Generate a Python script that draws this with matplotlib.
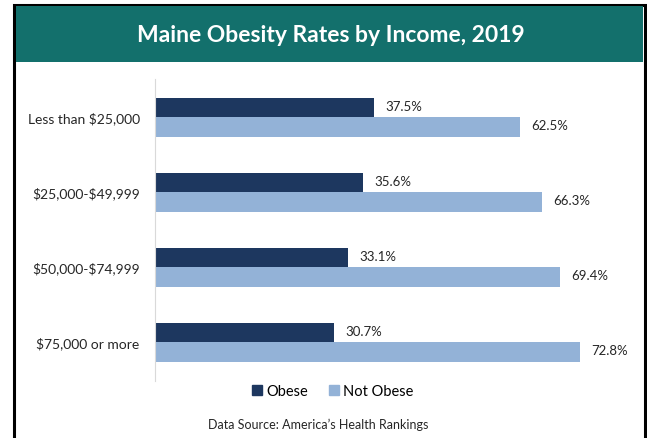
import matplotlib.pyplot as plt
from matplotlib.patches import Rectangle, Patch

categories = ['Less than $25,000', '$25,000-$49,999', '$50,000-$74,999', '$75,000 or more']
obese = [37.5, 35.6, 33.1, 30.7]
not_obese = [62.5, 66.3, 69.4, 72.8]
series_names = ['Obese', 'Not Obese']

dark = '#1d375f'
light = '#93b2d7'
teal = '#13706c'
W, H = 647, 439

plt.rcParams['font.family'] = ['Lato', 'DejaVu Sans']
plt.rcParams['text.parse_math'] = False
fig = plt.figure(figsize=(W / 100, H / 100), dpi=100)

# outer frame (open at the bottom) and title band
fig.patches.append(Rectangle((14 / W, -0.05), 631 / W, 1.05 - 6 / H, transform=fig.transFigure,
                             facecolor='white', edgecolor='black', linewidth=2.2, zorder=-2))
fig.patches.append(Rectangle((16 / W, 1 - 63 / H), 627 / W, 56 / H, transform=fig.transFigure,
                             facecolor=teal, edgecolor='none', zorder=-1))
fig.text(331 / W, 1 - 36 / H, 'Maine Obesity Rates by Income, 2019', color='white',
         fontsize=16.5, fontweight='bold', ha='center', va='center')

ax = fig.add_axes([155 / W, 57 / H, 467 / W, 302 / H])
ax.set_zorder(2)
n = len(categories)
ypos = [n - 1 - i for i in range(n)]
h = 0.26
b1 = ax.barh([y + h / 2 for y in ypos], obese, height=h, color=dark, label=series_names[0])
b2 = ax.barh([y - h / 2 for y in ypos], not_obese, height=h, color=light, label=series_names[1])

for bars, vals in ((b1, obese), (b2, not_obese)):
    for bar, v in zip(bars, vals):
        ax.annotate(f'{v:.1f}%', (bar.get_width(), bar.get_y() + bar.get_height() / 2),
                    xytext=(8, 1), textcoords='offset points', va='center', ha='left',
                    fontsize=9.5, color='#262626')

ax.set_xlim(0, 80)
ax.set_ylim(-0.52, 3.507)
ax.set_yticks(ypos)
ax.set_yticklabels(categories, fontsize=10, color='#262626')
ax.tick_params(axis='y', length=0, pad=11)
ax.set_xticks([])
for s in ['top', 'right', 'bottom']:
    ax.spines[s].set_visible(False)
ax.spines['left'].set_color('#d9d9d9')
ax.patch.set_alpha(0)

handles = [Patch(color=dark), Patch(color=light)]
fig.legend(handles, series_names, loc='center', bbox_to_anchor=(333 / W, 1 - 392 / H),
           ncol=2, frameon=False, fontsize=10.5, handlelength=0.7, handleheight=0.7,
           handletextpad=0.3, columnspacing=1.4)
fig.text(318 / W, 1 - 425 / H, 'Data Source: America\u2019s Health Rankings',
         fontsize=9, ha='center', va='center', color='#262626')

fig.savefig('out.png', dpi=100)
